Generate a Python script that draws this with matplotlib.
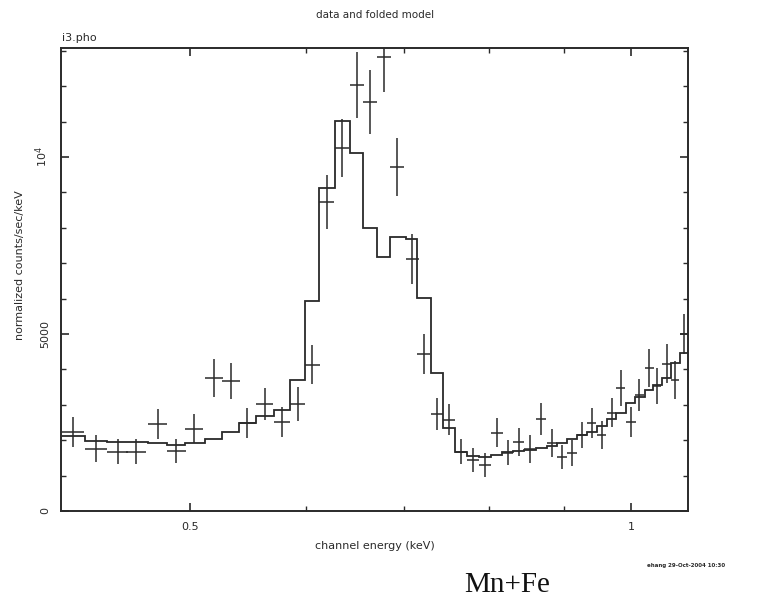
import numpy as np
import matplotlib
matplotlib.use('Agg')
import matplotlib.pyplot as plt
from matplotlib.ticker import FixedLocator, NullFormatter

# channel energies (keV)
energy = [0.416, 0.431, 0.446, 0.459, 0.475, 0.489, 0.503, 0.519, 0.533, 0.547,
          0.562, 0.578, 0.592, 0.606, 0.620, 0.635, 0.650, 0.663, 0.678, 0.692,
          0.709, 0.722, 0.737, 0.751, 0.765, 0.780, 0.795, 0.810, 0.824, 0.838,
          0.853, 0.868, 0.883, 0.897, 0.911, 0.926, 0.940, 0.955, 0.970, 0.984,
          1.000, 1.013, 1.029, 1.042, 1.058, 1.072, 1.087]
half_width = 0.0073

# data (normalized counts/sec/keV) and errors
counts = [2232, 1752, 1667, 1667, 2458, 1695, 2317, 3757, 3673, 2486,
          3023, 2514, 3023, 4125, 8729, 10255, 12035, 11554, 12826, 9718,
          7119, 4435, 2740, 2571, 1667, 1441, 1300, 2204, 1639, 1949,
          1752, 2599, 1921, 1526, 1639, 2147, 2486, 2147, 2769, 3475,
          2514, 3277, 4040, 3531, 4153, 3701, 5000]
errors = [424, 381, 353, 353, 410, 325, 410, 523, 508, 424,
          452, 424, 480, 551, 763, 833, 932, 904, 989, 833,
          720, 565, 452, 438, 353, 339, 339, 410, 353, 396,
          396, 438, 396, 339, 367, 381, 424, 396, 410, 508,
          424, 466, 537, 508, 551, 537, 565]

# folded model per channel
model = [2119, 1978, 1949, 1949, 1921, 1865, 1921, 2034, 2232, 2486,
         2684, 2853, 3701, 5933, 9125, 11018, 10114, 7995, 7176, 7741,
         7684, 6017, 3899, 2345, 1667, 1554, 1526, 1582, 1667, 1695,
         1723, 1780, 1836, 1921, 2034, 2147, 2232, 2401, 2599, 2769,
         3051, 3221, 3418, 3560, 3757, 4181, 4464]

ink = '#2a2a2a'
plt.rcParams['font.family'] = ['DejaVu Sans']

fig = plt.figure(figsize=(7.64, 6.05), dpi=100)
ax = fig.add_axes([61 / 764, 1 - 511 / 605, 627 / 764, 463 / 605])

e = np.array(energy)
edges = np.concatenate([e - half_width, [e[-1] + half_width]])
ax.stairs(model, edges, baseline=None, color=ink, lw=1.3)
ax.errorbar(energy, counts, xerr=half_width, yerr=errors, fmt='none',
            ecolor=ink, elinewidth=1.1, capsize=0)

ax.set_xscale('log')
ax.set_xlim(0.408, 1.094)
ax.set_ylim(0, 13080)

ax.xaxis.set_major_locator(FixedLocator([0.5, 1.0]))
ax.xaxis.set_minor_locator(FixedLocator([0.6, 0.7, 0.8, 0.9]))
ax.xaxis.set_minor_formatter(NullFormatter())
ax.set_xticklabels(['0.5', '1'])
ax.yaxis.set_major_locator(FixedLocator([0, 5000, 10000]))
ax.yaxis.set_minor_locator(FixedLocator([1000, 2000, 3000, 4000, 6000, 7000,
                                         8000, 9000, 11000, 12000, 13000]))
ax.set_yticklabels(['0', '5000', r'$10^4$'], rotation=90, va='center')

ax.tick_params(which='both', direction='in', top=True, right=True,
               color=ink, labelcolor=ink, labelsize=8)
ax.tick_params(which='major', length=6, width=1.2, pad=8)
ax.tick_params(which='minor', length=3.5, width=1.0)
for s in ax.spines.values():
    s.set_color(ink)
    s.set_linewidth(1.4)

fig.text(375 / 764, 1 - 15 / 605, 'data and folded model', ha='center',
         va='center', fontsize=7.5, color=ink)
fig.text(62 / 764, 1 - 38 / 605, 'i3.pho', ha='left', va='center',
         fontsize=8, color=ink)
fig.text(375 / 764, 1 - 546 / 605, 'channel energy (keV)', ha='center',
         va='center', fontsize=8, color=ink)
fig.text(20 / 764, 1 - 265 / 605, 'normalized counts/sec/keV', ha='center',
         va='center', rotation=90, fontsize=8, color=ink)
fig.text(647 / 764, 1 - 565 / 605, 'ehang 29-Oct-2004 10:30', ha='left',
         va='center', fontsize=4, fontweight='bold', color=ink)
fig.text(507 / 764, 1 - 585 / 605, 'Mn+Fe', ha='center', va='center',
         fontsize=21, family='Liberation Serif', color='#111111')

fig.savefig('out.png', dpi=100)
